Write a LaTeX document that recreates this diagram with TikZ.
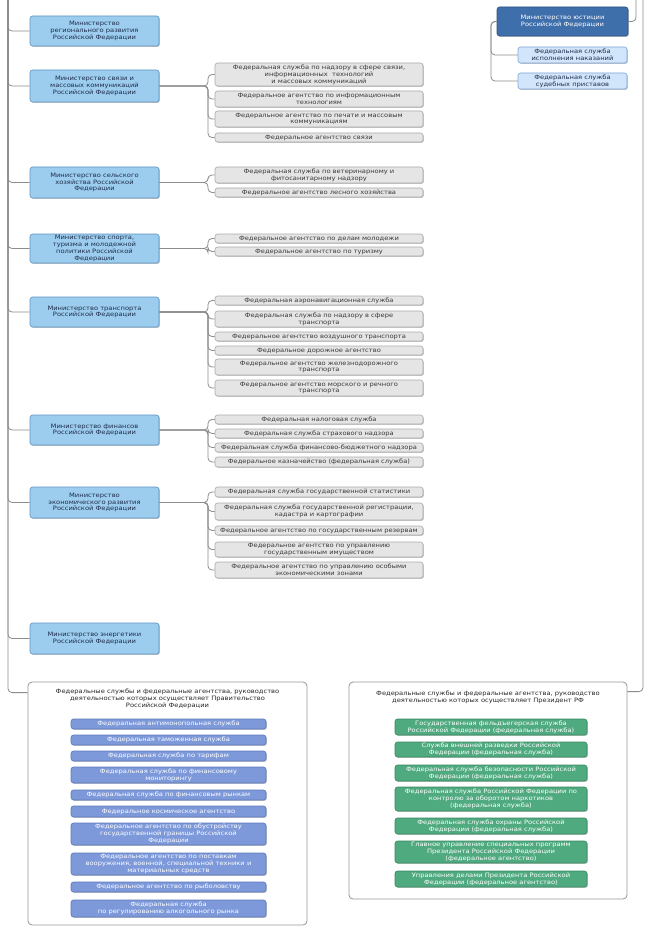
\documentclass[tikz,border=0pt]{standalone}
\usepackage{fontspec}
\setmainfont{DejaVu Sans}[FakeStretch=1.12]
\usetikzlibrary{shadows}
\definecolor{minfill}{HTML}{9DCDEE}
\definecolor{mindraw}{HTML}{5F93C2}
\definecolor{mintext}{HTML}{1C2B4A}
\definecolor{jusfill}{HTML}{3F6FAA}
\definecolor{jusdraw}{HTML}{2C5487}
\definecolor{jchfill}{HTML}{D2E6FB}
\definecolor{jchdraw}{HTML}{7FA6D6}
\definecolor{gryfill}{HTML}{E5E5E5}
\definecolor{grydraw}{HTML}{ABABAB}
\definecolor{grytext}{HTML}{383838}
\definecolor{blufill}{HTML}{7D99DA}
\definecolor{bludraw}{HTML}{5D78B9}
\definecolor{grnfill}{HTML}{4FAA7F}
\definecolor{grndraw}{HTML}{3A8A63}
\definecolor{lncol}{HTML}{8C8C8C}
\newcommand\mybox[7]{%
  \pgfmathsetmacro\bw{#5-#3}\pgfmathsetmacro\bh{#6-#4}%
  \node[#2, minimum width=\bw pt, minimum height=\bh pt] (#1) at ({(#3+#5)/2},{(#4+#6)/2}) {#7};}
\tikzset{
  base/.style={rounded corners=2.5pt, inner sep=0pt, align=center, line width=0.6pt,
    font=\fontsize{6}{6.8}\selectfont,
    drop shadow={shadow xshift=0.9pt, shadow yshift=-0.9pt, fill=black, opacity=0.22}},
  ministry/.style={base, fill=minfill, draw=mindraw, text=mintext},
  justice/.style={base, fill=jusfill, draw=jusdraw, text=white},
  jchild/.style={base, fill=jchfill, draw=jchdraw, text=mintext},
  agency/.style={base, fill=gryfill, draw=grydraw, text=grytext},
  gvbox/.style={base, fill=blufill, draw=bludraw, text=white},
  prbox/.style={base, fill=grnfill, draw=grndraw, text=white},
  container/.style={rounded corners=4pt, draw=lncol!90, line width=0.8pt, fill=white, inner sep=0pt},
  title/.style={align=center, inner sep=0pt, font=\fontsize{6}{7}\selectfont, text=black!85},
  conn/.style={draw=lncol, line width=0.8pt, rounded corners=4pt},
}
\begin{document}
\begin{tikzpicture}[x=1pt,y=-1pt]
\useasboundingbox (0,0) rectangle (646,933);
\fill[white] (0,0) rectangle (646,933);
\coordinate (T) at (8,0);
\coordinate (TRa) at (636,0);
\coordinate (TRb) at (643,0);
\coordinate (bk) at (208,0);
\coordinate (jb) at (491,0);

% ministries
\mybox{reg}{ministry}{30}{16}{159}{46}{Министерство\\регионального развития\\Российской Федерации}
\mybox{svz}{ministry}{30}{70}{159}{102}{Министерство связи и\\массовых коммуникаций\\Российской Федерации}
\mybox{sel}{ministry}{30}{167}{159}{198}{Министерство сельского\\хозяйства Российской\\Федерации}
\mybox{spt}{ministry}{30}{234}{159}{263}{Министерство спорта,\\туризма и молодежной\\политики Российской\\Федерации}
\mybox{trn}{ministry}{30}{297}{159}{327}{Министерство транспорта\\Российской Федерации}
\mybox{fin}{ministry}{30}{415}{159}{445}{Министерство финансов\\Российской Федерации}
\mybox{eco}{ministry}{30}{487}{159}{518}{Министерство\\экономического развития\\Российской Федерации}
\mybox{enr}{ministry}{30}{623}{159}{654}{Министерство энергетики\\Российской Федерации}

% justice
\mybox{jus}{justice}{497}{7}{628}{36}{Министерство юстиции\\Российской Федерации}
\mybox{j1}{jchild}{518}{47}{627}{63}{Федеральная служба\\исполнения наказаний}
\mybox{j2}{jchild}{518}{73}{627}{89}{Федеральная служба\\судебных приставов}

% agencies
\mybox{a1}{agency}{215}{63}{423}{86}{Федеральная служба по надзору в сфере связи,\\информационных~ технологий\\и массовых коммуникаций}
\mybox{a2}{agency}{215}{91}{423}{107}{Федеральное агентство по информационным\\технологиям}
\mybox{a3}{agency}{215}{111}{423}{127}{Федеральное агентство по печати и массовым\\коммуникациям}
\mybox{a4}{agency}{215}{133}{423}{142}{Федеральное агентство связи}

\mybox{b1}{agency}{215}{167}{423}{183}{Федеральная служба по ветеринарному и\\фитосанитарному надзору}
\mybox{b2}{agency}{215}{188}{423}{197}{Федеральное агентство лесного хозяйства}

\mybox{c1}{agency}{215}{234}{423}{243}{Федеральное агентство по делам молодежи}
\mybox{c2}{agency}{215}{247}{423}{256}{Федеральное агентство по туризму}

\mybox{d1}{agency}{215}{296}{423}{305}{Федеральная аэронавигационная служба}
\mybox{d2}{agency}{215}{311}{423}{327}{Федеральная служба по надзору в сфере\\транспорта}
\mybox{d3}{agency}{215}{332}{423}{341}{Федеральное агентство воздушного транспорта}
\mybox{d4}{agency}{215}{346}{423}{355}{Федеральное дорожное агентство}
\mybox{d5}{agency}{215}{359}{423}{375}{Федеральное агентство железнодорожного\\транспорта}
\mybox{d6}{agency}{215}{380}{423}{396}{Федеральное агентство морского и речного\\транспорта}

\mybox{e1}{agency}{215}{415}{423}{424}{Федеральная налоговая служба}
\mybox{e2}{agency}{215}{429}{423}{438}{Федеральная служба страхового надзора}
\mybox{e3}{agency}{215}{443}{423}{452}{Федеральная служба финансово-бюджетного надзора}
\mybox{e4}{agency}{215}{457}{423}{467}{Федеральное казначейство (федеральная служба)}

\mybox{f1}{agency}{215}{487}{423}{497}{Федеральная служба государственной статистики}
\mybox{f2}{agency}{215}{503}{423}{520}{Федеральная служба государственной регистрации,\\кадастра и картографии}
\mybox{f3}{agency}{215}{526}{423}{535}{Федеральное агентство по государственным резервам}
\mybox{f4}{agency}{215}{542}{423}{557}{Федеральное агентство по управлению\\государственным имуществом}
\mybox{f5}{agency}{215}{562}{423}{578}{Федеральное агентство по управлению особыми\\экономическими зонами}

% containers
\mybox{gov}{container}{28}{682}{307}{925}{}
\mybox{prs}{container}{349}{682}{627}{899}{}
\node[title] (govt) at (167.5,699) {Федеральные службы и федеральные агентства, руководство\\деятельностью которых осуществляет Правительство\\Российской Федерации};
\node[title] (prst) at (488,697) {Федеральные службы и федеральные агентства, руководство\\деятельностью которых осуществляет Президент РФ};

\mybox{g1}{gvbox}{71}{719}{266}{729}{Федеральная антимонопольная служба}
\mybox{g2}{gvbox}{71}{735}{266}{745}{Федеральная таможенная служба}
\mybox{g3}{gvbox}{71}{751}{266}{761}{Федеральная служба по тарифам}
\mybox{g4}{gvbox}{71}{767}{266}{783}{Федеральная служба по финансовому\\мониторингу}
\mybox{g5}{gvbox}{71}{790}{266}{800}{Федеральная служба по финансовым рынкам}
\mybox{g6}{gvbox}{71}{806}{266}{817}{Федеральное космическое агентство}
\mybox{g7}{gvbox}{71}{823}{266}{845}{Федеральное агентство по обустройству\\государственной границы Российской\\Федерации}
\mybox{g8}{gvbox}{71}{853}{266}{875}{Федеральное агентство по поставкам\\вооружения, военной, специальной техники и\\материальных средств}
\mybox{g9}{gvbox}{71}{882}{266}{892}{Федеральное агентство по рыболовству}
\mybox{g10}{gvbox}{71}{900}{266}{917}{Федеральная служба\\по регулированию алкогольного рынка}

\mybox{p1}{prbox}{395}{719}{587}{735}{Государственная фельдъегерская служба\\Российской Федерации (федеральная служба)}
\mybox{p2}{prbox}{395}{742}{587}{757}{Служба внешней разведки Российской\\Федерации (федеральная служба)}
\mybox{p3}{prbox}{395}{765}{587}{781}{Федеральная служба безопасности Российской\\Федерации (федеральная служба)}
\mybox{p4}{prbox}{395}{787}{587}{811}{Федеральная служба Российской Федерации по\\контролю за оборотом наркотиков\\(федеральная служба)}
\mybox{p5}{prbox}{395}{818}{587}{834}{Федеральная служба охраны Российской\\Федерации (федеральная служба)}
\mybox{p6}{prbox}{395}{841}{587}{863}{Главное управление специальных программ\\Президента Российской Федерации\\(федеральное агентство)}
\mybox{p7}{prbox}{395}{871}{587}{887}{Управления делами Президента Российской\\Федерации (федеральное агентство)}

% connectors
\foreach \m in {reg,svz,sel,spt,trn,fin,eco,enr}
  \draw[conn] (T) |- (\m.west);
\draw[conn] (T) |- ([yshift=-11pt]gov.north west);
\draw[conn] (TRa) |- (jus.east);
\draw[conn] (TRb) |- ([yshift=-10pt]prs.north east);
\foreach \c in {j1,j2}
  \draw[conn] (jus.west) -- (jus.west -| jb) |- (\c.west);
\foreach \c in {a1,a2,a3,a4}
  \draw[conn] (svz.east) -- (svz.east -| bk) |- (\c.west);
\foreach \c in {b1,b2}
  \draw[conn] (sel.east) -- (sel.east -| bk) |- (\c.west);
\foreach \c in {c1,c2}
  \draw[conn] (spt.east) -- (spt.east -| bk) |- (\c.west);
\foreach \c in {d1,d2,d3,d4,d5,d6}
  \draw[conn] (trn.east) -- (trn.east -| bk) |- (\c.west);
\foreach \c in {e1,e2,e3,e4}
  \draw[conn] (fin.east) -- (fin.east -| bk) |- (\c.west);
\foreach \c in {f1,f2,f3,f4,f5}
  \draw[conn] (eco.east) -- (eco.east -| bk) |- (\c.west);
\end{tikzpicture}
\end{document}
